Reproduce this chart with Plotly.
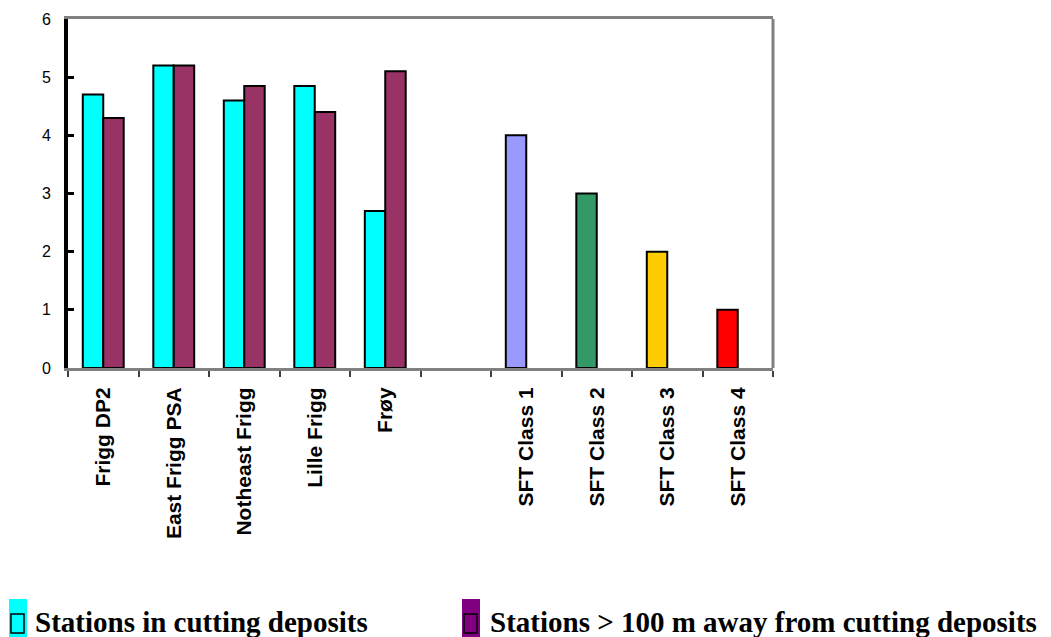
import plotly.graph_objects as go

# Categories along the x axis (blank slot separates the field stations from the SFT classes)
categories = ["Frigg DP2", "East Frigg PSA", "Notheast Frigg", "Lille Frigg", "Frøy", " ",
              "SFT Class 1", "SFT Class 2", "SFT Class 3", "SFT Class 4"]

# Stations in cutting deposits, followed by the SFT class reference levels
in_deposits = [4.7, 5.2, 4.6, 4.85, 2.7, None, 4, 3, 2, 1]
# Stations more than 100 m away from cutting deposits
away_from_deposits = [4.3, 5.2, 4.85, 4.4, 5.1, None, None, None, None, None]

CYAN = "#00FFFF"
PLUM = "#993366"
SFT_COLORS = ["#9999FF", "#339966", "#FFCC00", "#FF0000"]
in_colors = [CYAN] * 6 + SFT_COLORS

W, H = 1051, 637
L, R, T, B = 68, 773, 19, 368  # plot area edges in pixels


def px_x(x):
    return (x - L) / (R - L)


def px_y(y):
    return (B - y) / (B - T)


fig = go.Figure()
fig.add_trace(go.Bar(
    x=categories, y=in_deposits, name="Stations in cutting deposits",
    marker=dict(color=in_colors, line=dict(color="black", width=2)),
))
fig.add_trace(go.Bar(
    x=categories, y=away_from_deposits, name="Stations > 100 m away from cutting deposits",
    marker=dict(color=PLUM, line=dict(color="black", width=2)),
))

fig.update_layout(
    width=W, height=H,
    margin=dict(l=L, r=W - R, t=T, b=H - B, pad=0),
    paper_bgcolor="white", plot_bgcolor="white",
    barmode="group", bargap=0.42, bargroupgap=0,
    showlegend=False,
)

fig.update_xaxes(
    type="category", categoryorder="array", categoryarray=categories,
    showline=True, linecolor="#808080", linewidth=3, mirror=True,
    ticks="outside", tickson="boundaries", ticklen=6, tickwidth=1.5, tickcolor="#404040",
    tickangle=-90, ticklabelstandoff=8,
    tickfont=dict(family="Liberation Sans, Arial", size=21, color="black", weight="bold"),
    showgrid=False, zeroline=False,
)
fig.update_yaxes(
    range=[0, 6], dtick=1, tick0=0,
    showline=True, linecolor="black", linewidth=4,
    ticks="inside", ticklen=6, tickwidth=3, tickcolor="black",
    ticklabelstandoff=10,
    tickfont=dict(family="Liberation Sans, Arial", size=16, color="black"),
    showgrid=False, zeroline=False,
)

# right-hand frame edge
fig.add_shape(type="line", xref="paper", yref="paper", x0=1, x1=1, y0=0, y1=1,
              line=dict(color="#808080", width=3))

# legend keys drawn below the chart
legend_items = [
    (9, 27, CYAN, "Stations in cutting deposits", 33),
    (462, 480, "#800080", "Stations > 100 m away from cutting deposits", 488),
]
for x0, x1, col, label, tx in legend_items:
    fig.add_shape(type="rect", xref="paper", yref="paper",
                  x0=px_x(x0), x1=px_x(x1), y0=px_y(637), y1=px_y(599),
                  fillcolor=col, line=dict(width=0), layer="above")
    fig.add_shape(type="rect", xref="paper", yref="paper",
                  x0=px_x(x0 + 2), x1=px_x(x1 - 3), y0=px_y(633), y1=px_y(614),
                  fillcolor=col, line=dict(color="black", width=1.5), layer="above")
    fig.add_annotation(
        text=label, xref="paper", yref="paper", x=px_x(tx), y=px_y(622),
        xanchor="left", yanchor="middle", showarrow=False,
        font=dict(family="Liberation Serif, Times New Roman", size=29, color="black", weight="bold"),
    )

fig.write_html("out.html")
